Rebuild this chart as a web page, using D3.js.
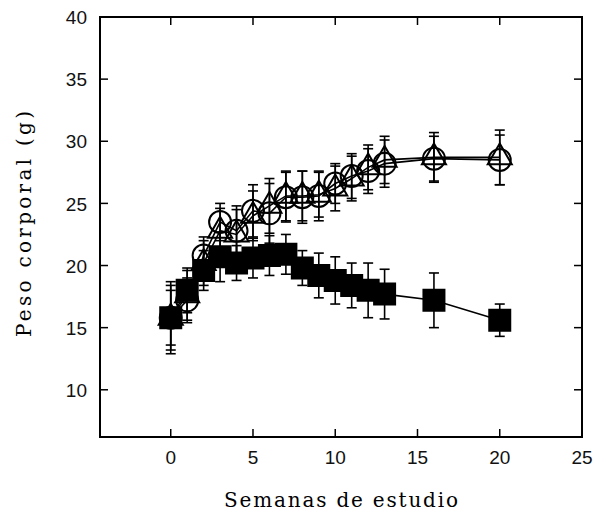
<!DOCTYPE html>
<html>
<head>
<meta charset="utf-8">
<script src="https://cdn.jsdelivr.net/npm/d3@7"></script>
<style>
  body { margin: 0; background: #fff; }
</style>
</head>
<body>
<div id="chart"></div>
<script>
////////// data //////////
var weeks = [0, 1, 2, 3, 4, 5, 6, 7, 8, 9, 10, 11, 12, 13, 16, 20];

// open circles
var circleVals = [15.8, 17.2, 20.8, 23.5, 22.8, 24.4, 24.2, 25.5, 25.5, 25.6, 26.6, 27.2, 27.6, 28.2, 28.6, 28.5];
var circleErr  = [2.2, 1.8, 1.5, 1.5, 2.0, 2.1, 2.4, 2.0, 2.1, 2.0, 1.6, 1.8, 1.8, 1.9, 1.8, 2.0];

// open triangles
var triVals = [15.8, 17.6, 20.2, 22.8, 22.5, 24.0, 24.8, 25.6, 25.6, 25.7, 26.2, 27.0, 27.9, 28.5, 28.7, 28.7];
var triErr  = [2.6, 2.0, 1.8, 1.8, 2.0, 2.0, 2.2, 2.0, 2.0, 1.8, 1.8, 1.8, 1.8, 1.9, 2.0, 2.2];

// filled squares
var squareVals = [15.8, 18.0, 19.6, 20.7, 20.2, 20.6, 20.8, 20.9, 19.8, 19.2, 18.8, 18.4, 18.0, 17.7, 17.2, 15.6];
var squareErr  = [2.9, 1.8, 1.6, 2.0, 1.4, 1.6, 1.6, 1.6, 1.4, 1.8, 1.9, 1.8, 2.2, 2.0, 2.2, 1.3];

var xTicks = [0, 5, 10, 15, 20, 25];
var yTicks = [10, 15, 20, 25, 30, 35, 40];

////////// layout //////////
var width  = 601,
    height = 514,
    plotLeft = 100, plotRight = 582, plotTop = 17, plotBottom = 437;

var svg = d3.select("#chart").append("svg")
    .attr("width", width)
    .attr("height", height);

var x = d3.scaleLinear().domain([-4.3, 25]).range([plotLeft, plotRight]);
var y = d3.scaleLinear().domain([6.2, 40]).range([plotBottom, plotTop]);

// frame
svg.append("rect")
    .attr("x", plotLeft).attr("y", plotTop)
    .attr("width", plotRight - plotLeft).attr("height", plotBottom - plotTop)
    .attr("fill", "none").attr("stroke", "#000").attr("stroke-width", 2);

// ticks pointing inward on all four sides
var tickLen = 8;
xTicks.filter(d => d < 25).forEach(d => {
    svg.append("line").attr("x1", x(d)).attr("x2", x(d))
        .attr("y1", plotBottom).attr("y2", plotBottom - tickLen)
        .attr("stroke", "#000").attr("stroke-width", 1.5);
    svg.append("line").attr("x1", x(d)).attr("x2", x(d))
        .attr("y1", plotTop).attr("y2", plotTop + tickLen)
        .attr("stroke", "#000").attr("stroke-width", 1.5);
});
yTicks.filter(d => d < 40).forEach(d => {
    svg.append("line").attr("x1", plotLeft).attr("x2", plotLeft + tickLen)
        .attr("y1", y(d)).attr("y2", y(d))
        .attr("stroke", "#000").attr("stroke-width", 1.5);
    svg.append("line").attr("x1", plotRight).attr("x2", plotRight - tickLen)
        .attr("y1", y(d)).attr("y2", y(d))
        .attr("stroke", "#000").attr("stroke-width", 1.5);
});

// tick labels
svg.selectAll(".xlab").data(xTicks).enter()
    .append("text")
    .attr("x", d => x(d))
    .attr("y", 464)
    .attr("text-anchor", "middle")
    .attr("font-family", "Liberation Sans")
    .attr("font-size", 19)
    .attr("fill", "#111")
    .text(d => d);

svg.selectAll(".ylab").data(yTicks).enter()
    .append("text")
    .attr("x", 87)
    .attr("y", d => y(d))
    .attr("dy", "0.38em")
    .attr("text-anchor", "end")
    .attr("font-family", "Liberation Sans")
    .attr("font-size", 19)
    .attr("fill", "#111")
    .text(d => d);

// axis titles
svg.append("text")
    .attr("x", 341)
    .attr("y", 507)
    .attr("text-anchor", "middle")
    .attr("font-family", "DejaVu Serif")
    .attr("font-size", 20)
    .attr("textLength", 234)
    .attr("lengthAdjust", "spacing")
    .text("Semanas de estudio");

svg.append("text")
    .attr("transform", "translate(31,224) rotate(-90)")
    .attr("text-anchor", "middle")
    .attr("font-family", "DejaVu Serif")
    .attr("font-size", 20)
    .attr("textLength", 226)
    .attr("lengthAdjust", "spacing")
    .text("Peso corporal (g)");

////////// series //////////
var line = d3.line().x(d => x(d.w)).y(d => y(d.v));

function toPoints(vals, errs){
    return weeks.map((w, i) => ({w: w, v: vals[i], e: errs[i]}));
}

var series = [
    {pts: toPoints(circleVals, circleErr), shape: "circle"},
    {pts: toPoints(triVals, triErr), shape: "triangle"},
    {pts: toPoints(squareVals, squareErr), shape: "square"}
];

// connecting lines
series.forEach(s => {
    svg.append("path")
        .attr("d", line(s.pts))
        .attr("fill", "none")
        .attr("stroke", "#000")
        .attr("stroke-width", 1.6);
});

// error bars
var cap = 5;
series.forEach(s => {
    var g = svg.append("g").attr("stroke", "#000").attr("stroke-width", 1.6);
    s.pts.forEach(p => {
        g.append("line").attr("x1", x(p.w)).attr("x2", x(p.w))
            .attr("y1", y(p.v - p.e)).attr("y2", y(p.v + p.e));
        [p.v - p.e, p.v + p.e].forEach(v => {
            g.append("line").attr("x1", x(p.w) - cap).attr("x2", x(p.w) + cap)
                .attr("y1", y(v)).attr("y2", y(v));
        });
    });
});

// markers
var sym = {
    circle:   d3.symbol().type(d3.symbolCircle).size(Math.PI * 11 * 11),
    triangle: d3.symbol().type(d3.symbolTriangle).size(250),
    square:   d3.symbol().type(d3.symbolSquare).size(21 * 21)
};

series.forEach(s => {
    svg.append("g").selectAll("path")
        .data(s.pts).enter()
        .append("path")
        .attr("transform", d => "translate(" + x(d.w) + "," + y(d.v) + ")")
        .attr("d", sym[s.shape]())
        .attr("fill", s.shape == "square" ? "#000" : "none")
        .attr("stroke", "#000")
        .attr("stroke-width", 2);
});
</script>
</body>
</html>
